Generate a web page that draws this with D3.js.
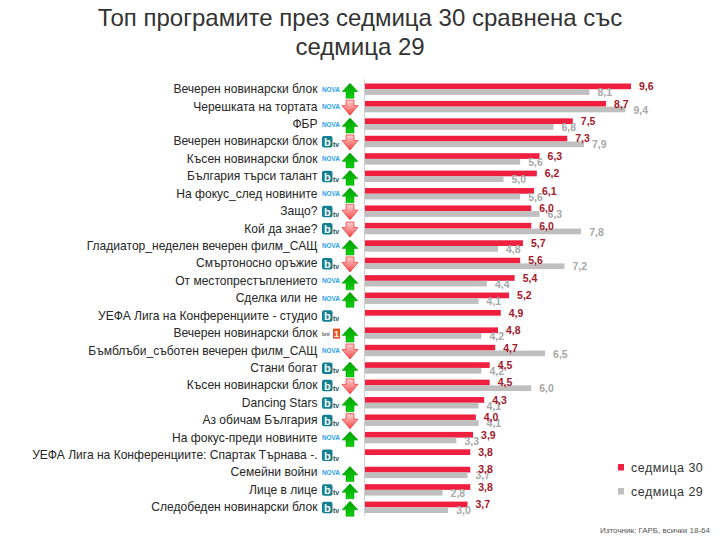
<!DOCTYPE html>
<html><head><meta charset="utf-8">
<script src="https://cdn.jsdelivr.net/npm/d3@7"></script>
<style>html,body{margin:0;padding:0;background:#fff}svg{display:block}text{font-family:"Liberation Sans",Arial,sans-serif}</style>
</head><body><div id="c"></div>
<script>
const programmes=["Вечерен новинарски блок","Черешката на тортата","ФБР","Вечерен новинарски блок","Късен новинарски блок","България търси талант","На фокус_след новините","Защо?","Кой да знае?","Гладиатор_неделен вечерен филм_САЩ","Смъртоносно оръжие","От местопрестъплението","Сделка или не","УЕФА Лига на Конференциите - студио","Вечерен новинарски блок","Бъмблъби_съботен вечерен филм_САЩ","Стани богат","Късен новинарски блок","Dancing Stars","Аз обичам България","На фокус-преди новините","УЕФА Лига на Конференциите: Спартак Търнава -.","Семейни войни","Лице в лице","Следобеден новинарски блок"];
const week30=[9.6,8.7,7.5,7.3,6.3,6.2,6.1,6.0,6.0,5.7,5.6,5.4,5.2,4.9,4.8,4.7,4.5,4.5,4.3,4.0,3.9,3.8,3.8,3.8,3.7];
const week29=[8.1,9.4,6.8,7.9,5.6,5.0,5.6,6.3,7.8,4.8,7.2,4.4,4.1,null,4.2,6.5,4.2,6.0,4.1,4.1,3.3,null,3.7,2.8,3.0];
const channels=["nova","nova","nova","btv","nova","btv","nova","btv","btv","nova","btv","nova","nova","btv","bnt","nova","btv","btv","btv","btv","nova","btv","nova","btv","btv"];
const trend=["up","down","up","down","up","up","up","down","down","up","down","up","up","","up","down","up","down","up","down","up","","up","up","up"];
const titleLines=["Топ програмите през седмица 30 сравнена със","седмица 29"];
const seriesNames=["седмица 30","седмица 29"];
const source="Източник: ГАРБ, всички 18-64";

const RED="#ee1f3f",GREY="#bfbfbf",DRED="#a3182b",DGREY="#a8a8a8";
const fmt=v=>v.toFixed(1).replace(".",",");
const svg=d3.select("#c").append("svg").attr("width",720).attr("height",540);
const defs=svg.append("defs");
const gu=defs.append("linearGradient").attr("id","gu").attr("x1",0).attr("x2",0).attr("y1",0).attr("y2",1);
gu.append("stop").attr("offset","0").attr("stop-color","#00a000");
gu.append("stop").attr("offset","1").attr("stop-color","#10d010");
const gd=defs.append("linearGradient").attr("id","gd").attr("x1",0).attr("x2",0).attr("y1",0).attr("y2",1);
gd.append("stop").attr("offset","0").attr("stop-color","#ffd4d4");
gd.append("stop").attr("offset","1").attr("stop-color","#f84444");

svg.selectAll("text.title").data(titleLines).join("text").attr("class","title")
 .attr("x",360).attr("y",(d,i)=>26+i*29).attr("text-anchor","middle").attr("font-size",24).attr("fill","#333").text(d=>d);

const x=d3.scaleLinear().domain([0,9.6]).range([365,631]);
const y=d3.scaleBand().domain(d3.range(programmes.length)).range([80.5,516]);
const barH=5.7, mid=y.bandwidth()/2;

svg.append("line").attr("x1",364.5).attr("x2",364.5).attr("y1",79.5).attr("y2",515.5).attr("stroke","#cfcfcf");

const rows=svg.selectAll("g.row").data(programmes.map((name,i)=>({name,i}))).join("g").attr("class","row")
 .attr("transform",d=>`translate(0,${y(d.i)})`);

rows.append("text").attr("x",317.5).attr("y",mid+4).attr("text-anchor","end").attr("font-size",12.05).attr("fill","#262626").text(d=>d.name);
rows.append("rect").attr("x",x(0)).attr("y",mid-barH).attr("height",barH).attr("width",d=>x(week30[d.i])-x(0)).attr("fill",RED);

const prev=rows.filter(d=>week29[d.i]!=null);
prev.append("rect").attr("x",x(0)).attr("y",mid).attr("height",barH).attr("width",d=>x(week29[d.i])-x(0)).attr("fill",GREY);
prev.append("text").attr("x",d=>x(week29[d.i])+8).attr("y",mid+7).attr("font-size",10.5).attr("font-weight","bold").attr("fill",DGREY).text(d=>fmt(week29[d.i]));
rows.append("text").attr("x",d=>x(week30[d.i])+8).attr("y",mid+1).attr("font-size",10.5).attr("font-weight","bold").attr("fill",DRED).text(d=>fmt(week30[d.i]));

const lx=322;
rows.filter(d=>channels[d.i]==="nova").append("text").attr("x",lx).attr("y",mid+2.5).attr("font-size",7).attr("font-weight","bold").attr("fill","#2a9fe8").attr("textLength",18).attr("lengthAdjust","spacingAndGlyphs").text("NOVA");
const bt=rows.filter(d=>channels[d.i]==="btv");
bt.append("rect").attr("x",lx).attr("y",mid-5.5).attr("width",10.5).attr("height",11.5).attr("rx",2).attr("fill","#127f92");
bt.append("text").attr("x",lx+2).attr("y",mid+4.5).attr("font-size",11).attr("font-weight","bold").attr("fill","#fff").text("b");
bt.append("text").attr("x",lx+11).attr("y",mid+5.5).attr("font-size",7).attr("font-weight","bold").attr("fill","#2b5560").text("tv");
const bn=rows.filter(d=>channels[d.i]==="bnt");
bn.append("text").attr("x",lx).attr("y",mid+2.5).attr("font-size",5).attr("font-weight","bold").attr("fill","#666").text("bnt");
bn.append("rect").attr("x",lx+11).attr("y",mid-4.5).attr("width",7).attr("height",10).attr("fill","#e8501e");
bn.append("text").attr("x",lx+14.5).attr("y",mid+3.5).attr("text-anchor","middle").attr("font-size",9).attr("font-weight","bold").attr("fill","#fff").text("1");

const ax=350;
const arrow=d3.line();
rows.filter(d=>trend[d.i]==="up").append("path")
 .attr("d",arrow([[ax,mid-6],[ax+8,mid+2.5],[ax+4,mid+2.5],[ax+4,mid+9],[ax-4,mid+9],[ax-4,mid+2.5],[ax-8,mid+2.5]])+"Z")
 .attr("fill","url(#gu)").attr("stroke","#009a00").attr("stroke-width",0.5);
rows.filter(d=>trend[d.i]==="down").append("path")
 .attr("d",arrow([[ax,mid+8.5],[ax+8,mid-1],[ax+4,mid-1],[ax+4,mid-6.5],[ax-4,mid-6.5],[ax-4,mid-1],[ax-8,mid-1]])+"Z")
 .attr("fill","url(#gd)").attr("stroke","#f02a2a").attr("stroke-width",0.7);

const leg=svg.selectAll("g.leg").data(seriesNames).join("g").attr("class","leg").attr("transform",(d,i)=>`translate(618,${467+i*24})`);
leg.append("rect").attr("y",-3).attr("width",6).attr("height",6.5).attr("fill",(d,i)=>[RED,GREY][i]);
leg.append("text").attr("x",13).attr("y",5).attr("font-size",12.5).attr("letter-spacing",0.5).attr("fill","#333").text(d=>d);
svg.append("text").attr("x",710).attr("y",532.5).attr("text-anchor","end").attr("font-size",8).attr("fill","#555").text(source);
</script>
</body></html>
